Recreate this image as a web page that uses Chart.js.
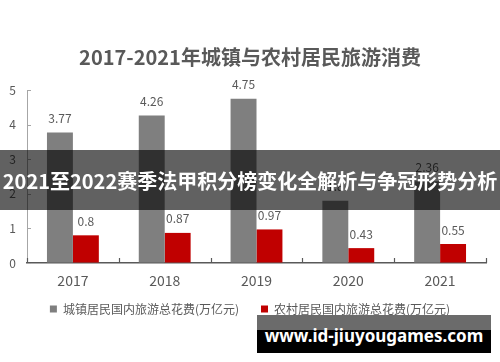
<!DOCTYPE html>
<html>
<head>
<meta charset="utf-8">
<script src="https://cdn.jsdelivr.net/npm/chart.js@4"></script>
<style>
  html, body { margin: 0; padding: 0; background: #fff; }
  #wrap { position: relative; width: 500px; height: 362px; overflow: hidden; }
  #banner {
    position: absolute; left: 0; top: 150px; width: 500px; height: 60px;
    background: rgba(0, 0, 0, 0.62); color: #fff;
    font: bold 20px "Noto Sans CJK SC", sans-serif;
    display: flex; align-items: center; justify-content: center; white-space: nowrap;
  }
  #site {
    position: absolute; left: 257px; top: 315px; width: 234px; height: 38px;
    background: linear-gradient(#6b6b6b 0, #6b6b6b 15px, #000 15px, #000 100%);
    color: #fff; font: bold 17px "Noto Sans", sans-serif;
    display: flex; align-items: flex-end; justify-content: center; padding-bottom: 6px; box-sizing: border-box;
  }
</style>
</head>
<body>
<div id="wrap">
  <canvas id="chart" width="500" height="362"></canvas>
  <div id="banner">2021至2022赛季法甲积分榜变化全解析与争冠形势分析</div>
  <div id="site">www.id-jiuyougames.com</div>
</div>
<script>
// 数据
const years = ['2017', '2018', '2019', '2020', '2021'];
const urbanSpend = [3.77, 4.26, 4.75, 1.8, 2.36];
const ruralSpend = [0.8, 0.87, 0.97, 0.43, 0.55];
const yTicks = [0, 1, 2, 3, 4, 5];

const txt = '#595959';
const cjk = '"Noto Sans CJK SC", sans-serif';

// 柱子上的数值标签
const valueLabels = {
  id: 'valueLabels',
  afterDatasetsDraw(chart) {
    const ctx = chart.ctx;
    ctx.save();
    ctx.font = '12px ' + cjk;
    ctx.fillStyle = txt;
    ctx.textAlign = 'center';
    ctx.textBaseline = 'middle';
    chart.data.datasets.forEach((ds, i) => {
      chart.getDatasetMeta(i).data.forEach((bar, j) => {
        ctx.fillText(String(ds.data[j]), bar.x, bar.y - 14);
      });
    });
    ctx.restore();
  }
};

// 坐标轴内侧刻度线
const innerTicks = {
  id: 'innerTicks',
  afterDraw(chart) {
    const ctx = chart.ctx;
    const x = chart.scales.x, y = chart.scales.y;
    ctx.save();
    ctx.strokeStyle = '#595959';
    ctx.lineWidth = 1.2;
    const step = x.getPixelForValue(1) - x.getPixelForValue(0);
    for (let i = 0; i <= years.length; i++) {
      const px = Math.round(x.getPixelForValue(i) - step / 2) + 0.5;
      ctx.beginPath();
      ctx.moveTo(px, y.bottom);
      ctx.lineTo(px, y.bottom - 5);
      ctx.stroke();
    }
    ctx.strokeStyle = '#a6a6a6';
    ctx.lineWidth = 1;
    yTicks.forEach(v => {
      const py = Math.round(y.getPixelForValue(v)) + 0.5;
      ctx.beginPath();
      ctx.moveTo(x.left, py);
      ctx.lineTo(x.left + 4, py);
      ctx.stroke();
    });
    ctx.restore();
  }
};

// 图例往上挪一点
const legendShift = {
  id: 'legendShift',
  afterLayout(chart) {
    chart.legend.top -= 9;
    chart.legend.bottom -= 9;
  }
};

new Chart(document.getElementById('chart'), {
  type: 'bar',
  data: {
    labels: years,
    datasets: [
      { label: '城镇居民国内旅游总花费(万亿元)', data: urbanSpend, backgroundColor: '#7f7f7f' },
      { label: '农村居民国内旅游总花费(万亿元)', data: ruralSpend, backgroundColor: '#c00000' }
    ]
  },
  options: {
    responsive: false,
    animation: false,
    layout: { padding: { left: 0, right: 0, top: 0, bottom: 28 } },
    datasets: { bar: { categoryPercentage: 0.565, barPercentage: 1 } },
    plugins: {
      title: {
        display: true,
        text: '2017-2021年城镇与农村居民旅游消费',
        color: txt,
        font: { family: cjk, size: 20, weight: 'bold' },
        padding: { top: 45, bottom: 21 }
      },
      legend: {
        position: 'bottom',
        labels: {
          color: txt,
          boxWidth: 7,
          boxHeight: 7,
          padding: 22,
          font: { family: cjk, size: 12 }
        }
      },
      tooltip: { enabled: false }
    },
    scales: {
      x: {
        grid: { display: true, drawOnChartArea: false, drawTicks: false },
        border: { color: '#595959', width: 1.5 },
        ticks: { color: txt, padding: 9, font: { family: cjk, size: 14 } },
        afterFit(s) { s.height = 27; s.paddingRight = 14; }
      },
      y: {
        min: 0,
        max: 5,
        grid: { display: true, drawOnChartArea: false, drawTicks: false },
        border: { color: '#a6a6a6', width: 1 },
        ticks: {
          stepSize: 1,
          color: txt,
          padding: 11,
          font: { family: cjk, size: 12 },
          callback: (v) => yTicks.includes(v) ? String(v) : ''
        },
        afterFit(s) { s.width = 27; }
      }
    }
  },
  plugins: [valueLabels, innerTicks, legendShift]
});
</script>
</body>
</html>
